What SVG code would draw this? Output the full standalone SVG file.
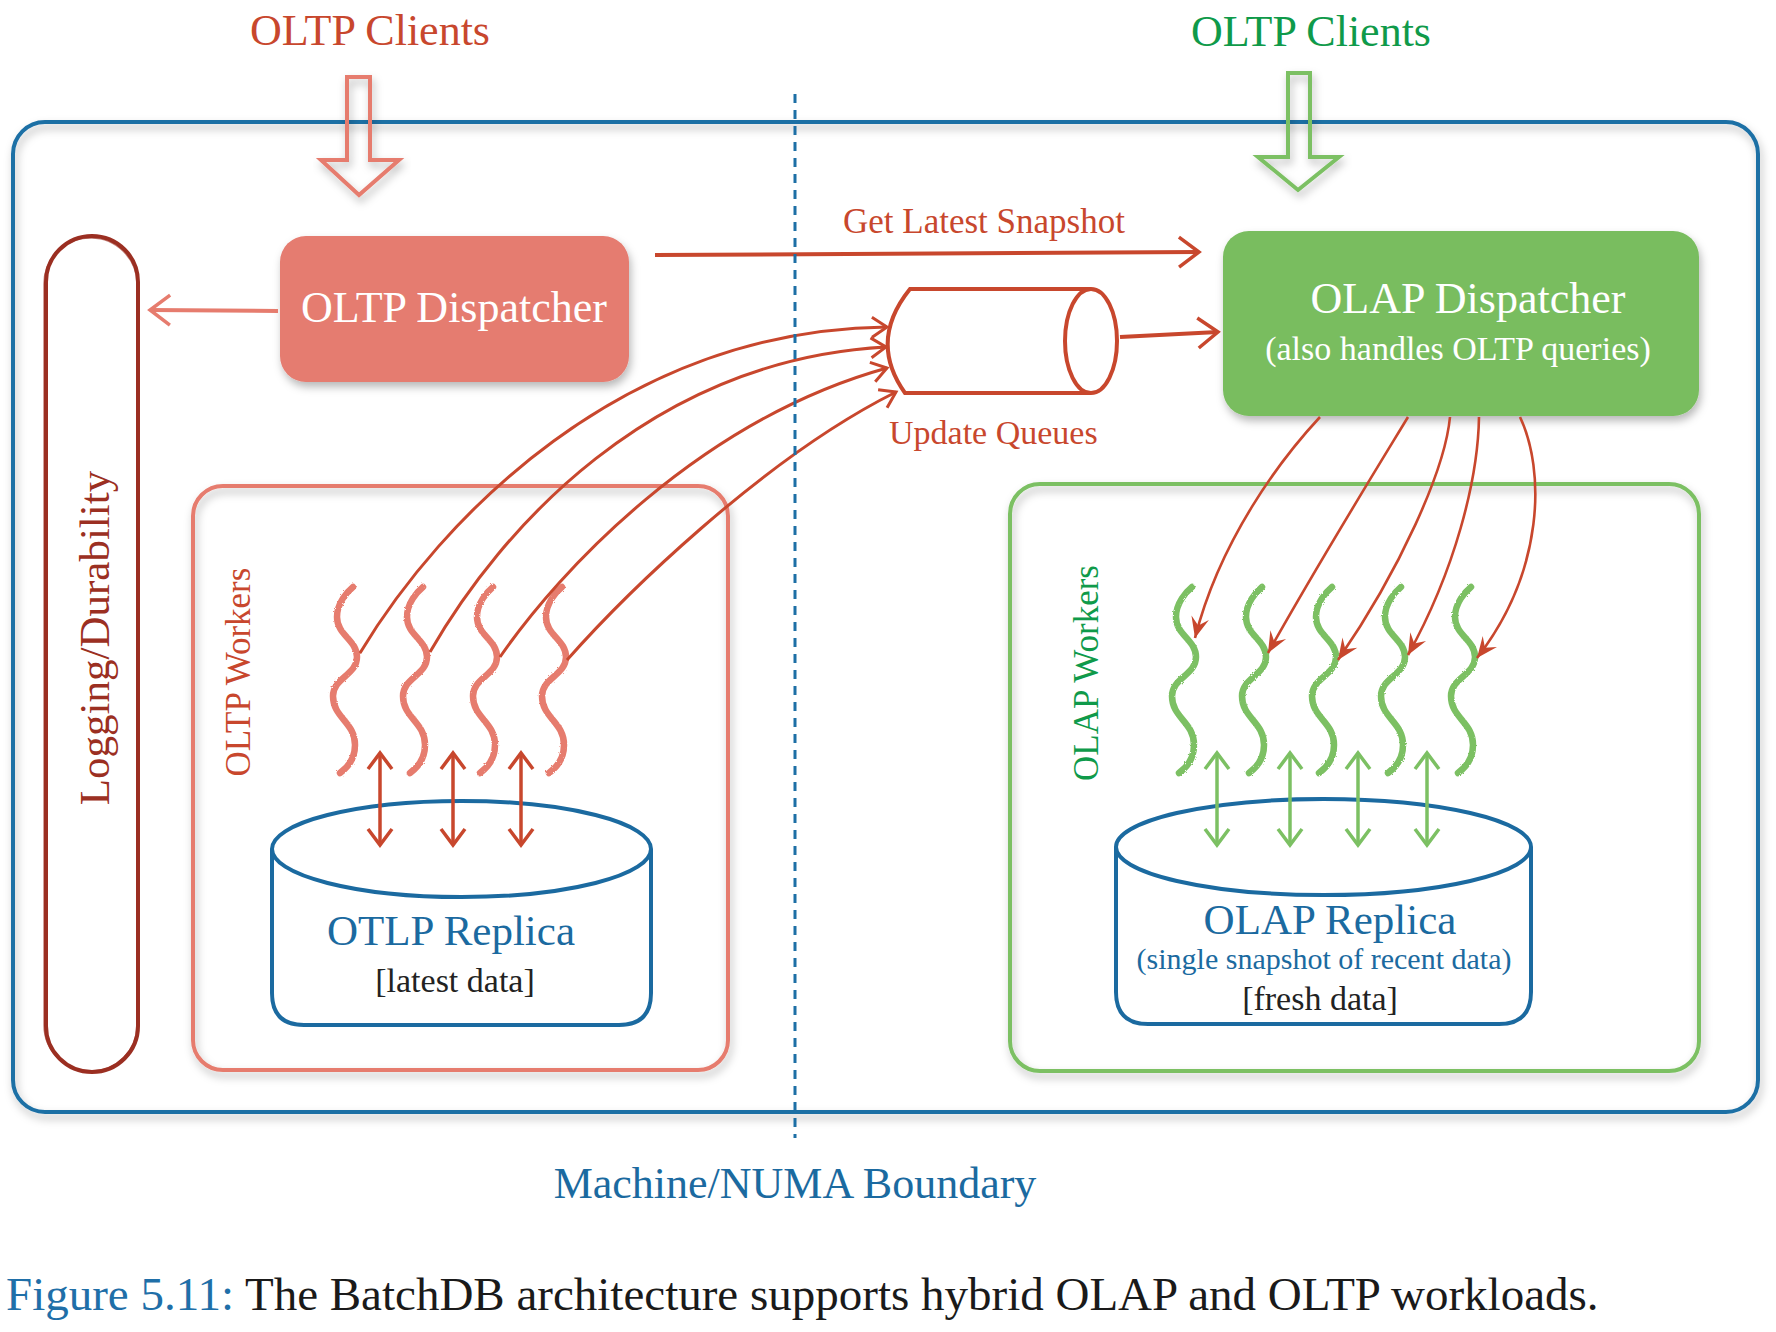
<svg xmlns="http://www.w3.org/2000/svg" xmlns:xlink="http://www.w3.org/1999/xlink" width="1776" height="1332" viewBox="0 0 1776 1332">
<style>
  text { font-family: "Liberation Serif", "Times New Roman", serif; }
  .red { fill: #c8472d; }
  .green { fill: #0f9a4a; }
  .blue { fill: #1b6aa0; }
  .dark { fill: #222222; }
  .white { fill: #ffffff; }
  .mid { text-anchor: middle; }
  .cyl { fill: #ffffff; stroke: #1b6aa0; stroke-width: 4; }
  .sqR { fill: none; stroke: #e67c6e; stroke-width: 6.5; stroke-linecap: round; }
  .sqG { fill: none; stroke: #7cc063; stroke-width: 6.5; stroke-linecap: round; }
  .dblR { stroke: #c8472d; stroke-width: 3.5; marker-start: url(#vR); marker-end: url(#vR); }
  .dblG { stroke: #7cc063; stroke-width: 3.5; marker-start: url(#vG); marker-end: url(#vG); }
  .toQ { fill: none; stroke: #c8472d; stroke-width: 3; marker-end: url(#vRs); }
  .toW { fill: none; stroke: #c8472d; stroke-width: 2.6; marker-end: url(#barb); }
</style>
<defs>
  <filter id="sh" x="-10%" y="-10%" width="125%" height="130%">
    <feDropShadow dx="2" dy="5" stdDeviation="4" flood-color="#000" flood-opacity="0.28"/>
  </filter>
  <filter id="rough" x="-30%" y="-5%" width="160%" height="110%">
    <feTurbulence type="fractalNoise" baseFrequency="0.9" numOctaves="2" result="n"/>
    <feDisplacementMap in="SourceGraphic" in2="n" scale="2.5"/>
  </filter>
  <marker id="vR" markerUnits="userSpaceOnUse" viewBox="-20 -14 24 28" markerWidth="24" markerHeight="28" refX="0" refY="0" orient="auto-start-reverse">
    <path d="M-16,-12 L0,0 L-16,12" fill="none" stroke="#c8472d" stroke-width="3.5" stroke-linejoin="miter"/>
  </marker>
  <marker id="vG" markerUnits="userSpaceOnUse" viewBox="-20 -14 24 28" markerWidth="24" markerHeight="28" refX="0" refY="0" orient="auto-start-reverse">
    <path d="M-16,-12 L0,0 L-16,12" fill="none" stroke="#7cc063" stroke-width="3.5"/>
  </marker>
  <marker id="vRs" markerUnits="userSpaceOnUse" viewBox="-18 -12 22 24" markerWidth="22" markerHeight="24" refX="0" refY="0" orient="auto">
    <path d="M-15,-10 L0,0 L-15,10" fill="none" stroke="#c8472d" stroke-width="3"/>
  </marker>
  <marker id="vRb" markerUnits="userSpaceOnUse" viewBox="-24 -18 28 36" markerWidth="28" markerHeight="36" refX="0" refY="0" orient="auto">
    <path d="M-20,-15 L0,0 L-20,15" fill="none" stroke="#c8472d" stroke-width="3.5"/>
  </marker>
  <marker id="vS" markerUnits="userSpaceOnUse" viewBox="-24 -18 28 36" markerWidth="28" markerHeight="36" refX="0" refY="0" orient="auto">
    <path d="M-20,-15 L0,0 L-20,15" fill="none" stroke="#e67c6e" stroke-width="3.5"/>
  </marker>
  <marker id="barb" markerUnits="userSpaceOnUse" viewBox="-24 -12 26 24" markerWidth="26" markerHeight="24" refX="0" refY="0" orient="auto">
    <path d="M0,0 L-21,-9 L-13,0 L-21,9 Z" fill="#c8472d"/>
  </marker>
  <path id="sq" d="M8,587 C2,592 -8,603 -8,617 C-8,635 12,640 12,657 C12,675 -12,678 -12,696 C-12,718 10,722 10,745 C10,760 2,768 -5,773"/>
</defs>

<rect width="1776" height="1332" fill="#ffffff"/>

<!-- Outer machine boundary -->
<g id="machine">
  <rect x="13" y="122" width="1745" height="990" rx="32" fill="none" stroke="#1d6fa5" stroke-width="4" filter="url(#sh)"/>
</g>

<!-- Titles -->
<g id="oltp-clients">
  <text x="370" y="45" class="red mid" font-size="44">OLTP Clients</text>
  <path d="M347,77 L370,77 L370,160 L399,160 L359,195 L321,160 L347,160 Z" fill="none" stroke="#e67c6e" stroke-width="4" stroke-linejoin="miter" filter="url(#sh)"/>
</g>
<g id="olap-clients">
  <text x="1311" y="46" class="green mid" font-size="44">OLTP Clients</text>
  <path d="M1288,73 L1310,73 L1310,157 L1339,157 L1298,190 L1258,157 L1288,157 Z" fill="none" stroke="#7cc063" stroke-width="4" stroke-linejoin="miter" filter="url(#sh)"/>
</g>

<!-- Logging/Durability -->
<g id="logging">
  <rect x="46" y="236" width="92" height="836" rx="46" fill="none" stroke="#9b2f22" stroke-width="4"/>
  <rect x="44" y="238" width="93" height="833" rx="46" fill="none" stroke="#9b2f22" stroke-width="1.5" opacity="0.6"/>
  <text transform="translate(109,638) rotate(-90)" class="mid" font-size="43" fill="#9b2f22">Logging/Durability</text>
</g>

<!-- OLTP Dispatcher -->
<g id="oltp-dispatcher">
  <rect x="280" y="236" width="349" height="146" rx="26" fill="#e57b6f" filter="url(#sh)"/>
  <text x="454" y="322" class="white mid" font-size="44">OLTP Dispatcher</text>
</g>

<!-- OLAP Dispatcher -->
<g id="olap-dispatcher">
  <rect x="1223" y="231" width="476" height="185" rx="26" fill="#79bd5f" filter="url(#sh)"/>
  <text x="1468" y="313" class="white mid" font-size="44">OLAP Dispatcher</text>
  <text x="1458" y="360" class="white mid" font-size="34">(also handles OLTP queries)</text>
</g>

<!-- Update Queues -->
<g id="update-queues">
  <path d="M1091,289 L910,289 Q868,341 905,393 L1091,393" fill="#ffffff" stroke="#c8472d" stroke-width="4"/>
  <ellipse cx="1091" cy="341" rx="26" ry="52" fill="#ffffff" stroke="#c8472d" stroke-width="4"/>
  <text x="889" y="444" class="red" font-size="34">Update Queues</text>
</g>

<!-- OLTP Workers -->
<g id="oltp-workers">
  <rect x="193" y="486" width="535" height="584" rx="30" fill="none" stroke="#e67c6e" stroke-width="4" filter="url(#sh)"/>
  <text transform="translate(250,672) rotate(-90)" class="red mid" font-size="35">OLTP Workers</text>
  <g filter="url(#rough)">
    <use xlink:href="#sq" href="#sq" class="sqR" transform="translate(345,0)"/>
    <use xlink:href="#sq" href="#sq" class="sqR" transform="translate(415,0)"/>
    <use xlink:href="#sq" href="#sq" class="sqR" transform="translate(485,0)"/>
    <use xlink:href="#sq" href="#sq" class="sqR" transform="translate(554,0)"/>
  </g>
</g>

<!-- OLTP Replica -->
<g id="oltp-replica">
  <path d="M272,849 L272,993 Q272,1025 304,1025 L619,1025 Q651,1025 651,993 L651,849" class="cyl"/>
  <ellipse cx="461.5" cy="849" rx="189.5" ry="48" class="cyl"/>
  <text x="451" y="945" class="blue mid" font-size="43">OTLP Replica</text>
  <text x="455" y="992" class="dark mid" font-size="34">[latest data]</text>
</g>

<!-- OLAP Workers -->
<g id="olap-workers">
  <rect x="1010" y="484" width="689" height="587" rx="30" fill="none" stroke="#7cc063" stroke-width="4" filter="url(#sh)"/>
  <text transform="translate(1098,673) rotate(-90)" class="green mid" font-size="35">OLAP Workers</text>
  <g filter="url(#rough)">
    <use xlink:href="#sq" href="#sq" class="sqG" transform="translate(1184,0)"/>
    <use xlink:href="#sq" href="#sq" class="sqG" transform="translate(1254,0)"/>
    <use xlink:href="#sq" href="#sq" class="sqG" transform="translate(1324,0)"/>
    <use xlink:href="#sq" href="#sq" class="sqG" transform="translate(1393,0)"/>
    <use xlink:href="#sq" href="#sq" class="sqG" transform="translate(1463,0)"/>
  </g>
</g>

<!-- OLAP Replica -->
<g id="olap-replica">
  <path d="M1116,847 L1116,992 Q1116,1024 1148,1024 L1499,1024 Q1531,1024 1531,992 L1531,847" class="cyl"/>
  <ellipse cx="1323.5" cy="847" rx="207.5" ry="48" class="cyl"/>
  <text x="1330" y="934" class="blue mid" font-size="43">OLAP Replica</text>
  <text x="1324" y="969" class="blue mid" font-size="30">(single snapshot of recent data)</text>
  <text x="1320" y="1010" class="dark mid" font-size="34">[fresh data]</text>
</g>

<!-- Connectors -->
<g id="connectors">
  <!-- Get Latest Snapshot -->
  <line x1="655" y1="255" x2="1199" y2="252" stroke="#c8472d" stroke-width="4" marker-end="url(#vRb)"/>
  <text x="843" y="233" class="red" font-size="35">Get Latest Snapshot</text>
  <!-- OLTP dispatcher to logging -->
  <line x1="278" y1="311" x2="150" y2="310" stroke="#e67c6e" stroke-width="4" marker-end="url(#vS)"/>
  <!-- Queue to OLAP dispatcher -->
  <line x1="1120" y1="337" x2="1218" y2="332" stroke="#c8472d" stroke-width="4" marker-end="url(#vRb)"/>
  <!-- OLTP workers to update queues -->
  <path class="toQ" d="M360,653 C440,520 620,330 887,327"/>
  <path class="toQ" d="M430,652 C500,530 650,360 886,347"/>
  <path class="toQ" d="M500,657 C560,570 700,420 887,368"/>
  <path class="toQ" d="M567,660 C620,600 760,460 896,392"/>
  <!-- OLAP dispatcher to OLAP workers -->
  <path class="toW" d="M1320,417 C1280,460 1220,540 1195,638"/>
  <path class="toW" d="M1408,417 C1385,455 1320,560 1268,653"/>
  <path class="toW" d="M1450,417 C1445,470 1400,570 1338,660"/>
  <path class="toW" d="M1479,417 C1478,480 1455,570 1408,655"/>
  <path class="toW" d="M1520,417 C1545,470 1545,570 1477,658"/>
  <!-- OLTP workers <-> replica -->
  <line class="dblR" x1="380" y1="753" x2="380" y2="845"/>
  <line class="dblR" x1="453" y1="753" x2="453" y2="845"/>
  <line class="dblR" x1="521" y1="753" x2="521" y2="845"/>
  <!-- OLAP workers <-> replica -->
  <line class="dblG" x1="1217" y1="753" x2="1217" y2="845"/>
  <line class="dblG" x1="1290" y1="753" x2="1290" y2="845"/>
  <line class="dblG" x1="1358" y1="753" x2="1358" y2="845"/>
  <line class="dblG" x1="1427" y1="753" x2="1427" y2="845"/>
</g>

<!-- Boundary -->
<g id="numa-boundary">
  <line x1="795" y1="94" x2="795" y2="1138" stroke="#1d6fa5" stroke-width="3" stroke-dasharray="9 7"/>
  <text x="795" y="1198" class="blue mid" font-size="44">Machine/NUMA Boundary</text>
</g>

<!-- Caption -->
<text x="6" y="1310" font-size="47" fill="#1a1a1a"><tspan fill="#1f6fa8">Figure 5.11:</tspan> The BatchDB architecture supports hybrid OLAP and OLTP workloads.</text>
</svg>
